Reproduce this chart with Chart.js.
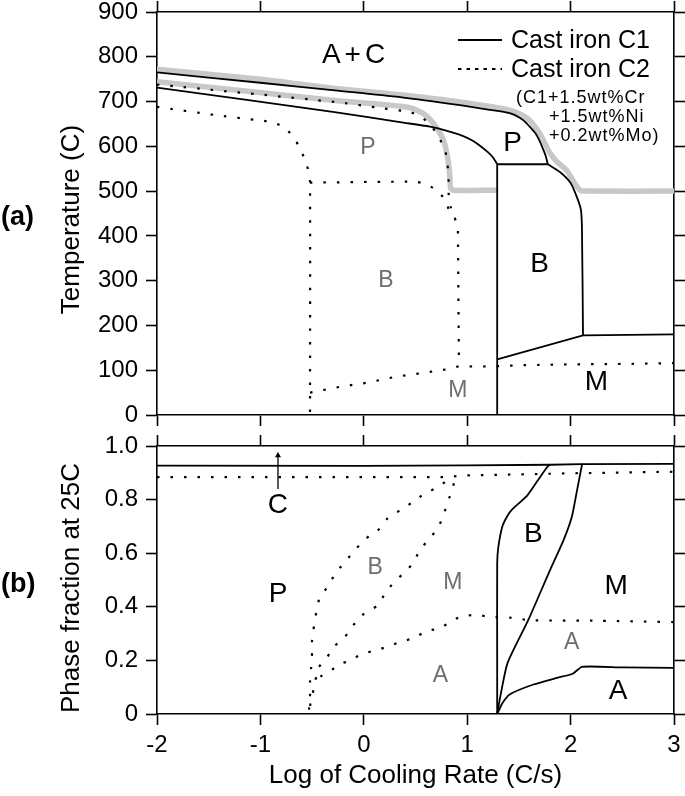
<!DOCTYPE html>
<html lang="en">
<head>
<meta charset="UTF-8">
<title>Phase map vs cooling rate</title>
<script src="https://cdn.jsdelivr.net/npm/chart.js"></script>
<style>
    body { margin: 0; background: #fff; }
    .wrap { position: relative; width: 685px; height: 796px; }
    #tempChart { position: absolute; left: 0; top: 0; }
    #fracChart { position: absolute; left: 0; top: 430px; }
</style>
</head>
<body>
<div class="wrap">
    <canvas id="tempChart" width="685" height="430"></canvas>
    <canvas id="fracChart" width="685" height="366"></canvas>
</div>
<script>
// x axis: log of cooling rate (C/s)
const xMin = -2, xMax = 3;

// ---- (a) temperature (C), cast iron C1 (solid) ----
const c1TopX = [-2, -1, -0.28, 0.35, 0.93, 1.2, 1.41, 1.54, 1.6, 1.66, 1.7, 1.73, 1.76, 1.78];
const c1TopT = [765, 742, 725, 710, 692, 682, 674, 659, 645, 629, 612, 596, 578, 560];
const c1PearX = [-2, -0.3, 0.35, 0.64, 0.83, 0.95, 1.05, 1.12, 1.2, 1.25, 1.29];
const c1PearT = [731, 677, 654, 644, 633, 624, 613, 602, 587, 575, 560];
const c1BoxX = [1.29, 1.78];
const c1BoxT = [560, 560];
const c1BainX = [1.78, 1.9, 2.0, 2.06, 2.1, 2.11, 2.12];
const c1BainT = [560, 542, 518, 487, 458, 413, 178];
const c1MsX = [1.29, 2.12, 3];
const c1MsT = [124, 178, 180];
const c1VertX = [1.29, 1.29];
const c1VertT = [0, 560];

// grey curves
const greyTopX = [-2, -1, -0.3, 0.35, 0.93, 1.41, 1.58, 1.7, 1.8, 1.87, 1.96, 2.02, 2.09, 2.15, 3];
const greyTopT = [772, 750, 730, 715, 699, 681, 663, 629, 585, 565, 547, 525, 502, 500, 500];
const greyLowX = [-2, -0.3, 0.41, 0.57, 0.67, 0.77, 0.81, 0.83, 0.84, 0.87, 1.29];
const greyLowT = [744, 703, 688, 674, 652, 614, 576, 540, 507, 502, 502];

// ---- (a) cast iron C2 (dotted) ----
const c2TopX = [-2, -0.28, 0.18, 0.45, 0.56, 0.66, 0.74, 0.79, 0.81, 0.82, 0.82, 0.84, 0.88];
const c2TopT = [738, 699, 685, 676, 665, 643, 614, 587, 558, 525, 496, 465, 440];
const c2PearX = [-2, -1.44, -1.05, -0.91, -0.78, -0.68, -0.62, -0.56, -0.53, -0.52, -0.52];
const c2PearT = [688, 670, 659, 655, 644, 621, 596, 565, 538, 519, 0];
const c2BainX = [-0.52, 0.45, 0.57, 0.69, 0.79, 0.83, 0.88];
const c2BainT = [519, 521, 518, 504, 480, 453, 440];
const c2VertX = [0.88, 0.91, 0.92];
const c2VertT = [440, 420, 110];
const c2MsX = [-0.52, -0.23, 0.03, 0.3, 0.57, 0.83, 0.92, 1.1, 1.29, 1.5, 2, 2.5, 3];
const c2MsT = [50, 63, 72, 85, 94, 103, 109, 108, 109, 111, 113, 114, 116];

// ---- (b) phase fraction at 25C, C1 (solid) ----
const f1CarbX = [-2, 0, 1, 1.8, 2.1, 3];
const f1CarbY = [0.927, 0.926, 0.928, 0.93, 0.932, 0.933];
const f1BLeftX = [1.29, 1.29, 1.29, 1.3, 1.34, 1.39, 1.44, 1.58, 1.68, 1.77, 1.8];
const f1BLeftY = [0, 0.19, 0.56, 0.62, 0.7, 0.74, 0.765, 0.815, 0.87, 0.92, 0.93];
const f1BRightX = [1.29, 1.32, 1.39, 1.59, 1.8, 1.93, 2.01, 2.06, 2.11];
const f1BRightY = [0, 0.065, 0.19, 0.35, 0.536, 0.647, 0.733, 0.83, 0.93];
const f1AustX = [1.29, 1.34, 1.41, 1.64, 1.87, 2.02, 2.11, 2.5, 3];
const f1AustY = [0, 0.04, 0.073, 0.11, 0.135, 0.15, 0.176, 0.174, 0.172];

// ---- (b) C2 (dotted) ----
const f2CarbX = [-2, 0.8, 0.95, 2, 3];
const f2CarbY = [0.884, 0.884, 0.89, 0.898, 0.904];
const f2PearX = [-0.53, -0.52, -0.52, -0.51, -0.5, -0.5, -0.46, -0.43, -0.36, -0.28, -0.2, -0.11, -0.02, 0.07, 0.15, 0.23, 0.35, 0.47, 0.59, 0.71, 0.8, 0.86];
const f2PearY = [0.016, 0.065, 0.12, 0.17, 0.23, 0.277, 0.38, 0.43, 0.47, 0.52, 0.56, 0.6, 0.64, 0.67, 0.69, 0.73, 0.76, 0.79, 0.823, 0.845, 0.87, 0.884];
const f2BainX = [-0.52, -0.47, -0.44, -0.36, -0.28, -0.18, -0.1, -0.015, 0.135, 0.205, 0.295, 0.4, 0.48, 0.54, 0.62, 0.71, 0.77, 0.81, 0.86, 0.88];
const f2BainY = [0.03, 0.121, 0.172, 0.209, 0.254, 0.289, 0.332, 0.369, 0.406, 0.45, 0.493, 0.53, 0.565, 0.61, 0.648, 0.69, 0.74, 0.79, 0.84, 0.884];
const f2AustX = [-0.42, -0.35, -0.24, -0.11, -0.01, 0.11, 0.22, 0.36, 0.48, 0.61, 0.74, 0.83, 0.95, 1.09, 1.24, 1.48, 1.58, 2.28, 3];
const f2AustY = [0.14, 0.154, 0.183, 0.205, 0.225, 0.237, 0.25, 0.27, 0.283, 0.31, 0.32, 0.343, 0.365, 0.369, 0.362, 0.358, 0.35, 0.348, 0.343];

// arrow pointing to the carbide layer
const arrowX = [-0.83, -0.83];
const arrowY = [0.84, 0.965];

const FONT = "'Liberation Sans', Arial, sans-serif";
const GREY_TXT = '#6e6e6e';

// text on the charts, placed in data coordinates
const notesA = [
    { text: 'A+C', x: -0.08, y: 804, size: 28, color: '#000', gap: 4 },
    { text: 'P', x: 0.04, y: 596, size: 23, color: GREY_TXT },
    { text: 'P', x: 1.44, y: 607, size: 28, color: '#000' },
    { text: 'B', x: 0.215, y: 301, size: 23, color: GREY_TXT },
    { text: 'B', x: 1.7, y: 337, size: 28, color: '#000' },
    { text: 'M', x: 0.91, y: 54, size: 23, color: GREY_TXT },
    { text: 'M', x: 2.25, y: 74, size: 28, color: '#000' }
];
const notesB = [
    { text: 'C', x: -0.83, y: 0.778, size: 28, color: '#000' },
    { text: 'P', x: -0.83, y: 0.448, size: 28, color: '#000' },
    { text: 'B', x: 0.11, y: 0.545, size: 23, color: GREY_TXT },
    { text: 'B', x: 1.64, y: 0.67, size: 28, color: '#000' },
    { text: 'M', x: 0.86, y: 0.49, size: 23, color: GREY_TXT },
    { text: 'M', x: 2.44, y: 0.476, size: 28, color: '#000' },
    { text: 'A', x: 2.01, y: 0.265, size: 23, color: GREY_TXT },
    { text: 'A', x: 0.74, y: 0.143, size: 23, color: GREY_TXT },
    { text: 'A', x: 2.46, y: 0.083, size: 28, color: '#000' }
];

Chart.defaults.font.family = FONT;
Chart.defaults.color = '#000';

const solid = { borderColor: '#000', borderWidth: 1.8 };
const dotted = { borderColor: '#000', borderWidth: 2.2, borderDash: [2.5, 11] };
const grey = { borderColor: '#c8c8c8', borderWidth: 5.5, order: 5 };

function curve(xs, ys, style, tension) {
    return Object.assign({
        data: xs.map((x, i) => ({ x: x, y: ys[i] })),
        showLine: true, pointRadius: 0, fill: false, tension: tension || 0
    }, style);
}

const border = { display: true, color: '#000', width: 1.6 };
const marks = { drawOnChartArea: false, drawTicks: true, tickLength: 11, tickWidth: 1.6, tickColor: '#000' };

function xAxis(position, labels, h) {
    return {
        type: 'linear', position: position, min: xMin, max: xMax,
        border: border, grid: marks,
        ticks: { display: labels, stepSize: 1, padding: 6, font: { size: 24 } },
        afterFit: s => { s.height = h; s.paddingLeft = 0; s.paddingRight = 0; }
    };
}
function yAxis(position, min, max, step, labels, w, fmt) {
    return {
        type: 'linear', position: position, min: min, max: max,
        border: border, grid: marks,
        ticks: { display: labels, stepSize: step, padding: 8, font: { size: 24 }, callback: fmt },
        afterFit: s => { s.width = w; s.paddingTop = 0; s.paddingBottom = 0; }
    };
}

// draws annotations, axis titles, panel tags and the legend
const notesPlugin = {
    id: 'notes',
    afterDraw(chart, args, opts) {
        const ctx = chart.ctx, area = chart.chartArea;
        const sx = chart.scales.x, sy = chart.scales.y;
        ctx.save();
        ctx.textAlign = 'center';
        ctx.textBaseline = 'middle';
        (opts.items || []).forEach(n => {
            ctx.font = n.size + 'px ' + FONT;
            ctx.fillStyle = n.color;
            ctx.letterSpacing = (n.gap || 0) + 'px';
            ctx.fillText(n.text, sx.getPixelForValue(n.x), sy.getPixelForValue(n.y));
        });
        ctx.letterSpacing = '0px';
        ctx.fillStyle = '#000';

        // y title
        ctx.save();
        ctx.translate(72, (area.top + area.bottom) / 2 + opts.titleShift);
        ctx.rotate(-Math.PI / 2);
        ctx.font = '26px ' + FONT;
        ctx.fillText(opts.yTitle, 0, 0);
        ctx.restore();

        // panel tag
        ctx.font = 'bold 27px ' + FONT;
        ctx.textAlign = 'left';
        ctx.fillText(opts.tag, 1, (area.top + area.bottom) / 2 + opts.tagShift);

        if (opts.xTitle) {
            ctx.textAlign = 'center';
            ctx.font = '26px ' + FONT;
            ctx.fillText(opts.xTitle, (area.left + area.right) / 2, 346);
        }

        if (opts.legend) {
            ctx.strokeStyle = '#000';
            ctx.lineWidth = 1.8;
            ctx.beginPath(); ctx.moveTo(458, 40); ctx.lineTo(502, 40); ctx.stroke();
            ctx.setLineDash([3.5, 5]);
            ctx.lineWidth = 2;
            ctx.beginPath(); ctx.moveTo(458, 69); ctx.lineTo(502, 69); ctx.stroke();
            ctx.setLineDash([]);
            ctx.textAlign = 'left';
            ctx.font = '25px ' + FONT;
            ctx.fillText('Cast iron C1', 511, 41);
            ctx.fillText('Cast iron C2', 511, 70);
            ctx.font = '18px ' + FONT;
            ctx.letterSpacing = '1px';
            ctx.fillText('(C1+1.5wt%Cr', 516, 98);
            ctx.fillText('+1.5wt%Ni', 549, 117);
            ctx.fillText('+0.2wt%Mo)', 549, 136);
            ctx.letterSpacing = '0px';
        }
        ctx.restore();
    }
};

new Chart(document.getElementById('tempChart'), {
    type: 'scatter',
    data: {
        datasets: [
            curve(c1TopX, c1TopT, solid, 0.25),
            curve(c1PearX, c1PearT, solid, 0.25),
            curve(c1BoxX, c1BoxT, solid),
            curve(c1BainX, c1BainT, solid, 0.25),
            curve(c1MsX, c1MsT, solid),
            curve(c1VertX, c1VertT, solid),
            curve(c2TopX, c2TopT, dotted, 0.25),
            curve(c2PearX, c2PearT, dotted, 0.25),
            curve(c2BainX, c2BainT, dotted, 0.25),
            curve(c2VertX, c2VertT, dotted),
            curve(c2MsX, c2MsT, dotted),
            curve(greyTopX, greyTopT, grey, 0.25),
            curve(greyLowX, greyLowT, grey, 0.25)
        ]
    },
    options: {
        responsive: false,
        animation: false,
        layout: { padding: 0 },
        scales: {
            x: xAxis('bottom', false, 15),
            x2: xAxis('top', false, 12),
            y: yAxis('left', 0, 900, 100, true, 157),
            y2: yAxis('right', 0, 900, 100, false, 11)
        },
        plugins: {
            legend: { display: false },
            tooltip: { enabled: false },
            notes: { items: notesA, yTitle: 'Temperature (C)', tag: '(a)', titleShift: 6, tagShift: 4, legend: true }
        }
    },
    plugins: [notesPlugin]
});

new Chart(document.getElementById('fracChart'), {
    type: 'scatter',
    data: {
        datasets: [
            curve(f1CarbX, f1CarbY, solid),
            curve(f1BLeftX, f1BLeftY, solid, 0.2),
            curve(f1BRightX, f1BRightY, solid, 0.2),
            curve(f1AustX, f1AustY, solid, 0.2),
            curve(f2CarbX, f2CarbY, dotted),
            curve(f2PearX, f2PearY, dotted, 0.2),
            curve(f2BainX, f2BainY, dotted, 0.2),
            curve(f2AustX, f2AustY, dotted, 0.2),
            Object.assign(curve(arrowX, arrowY, { borderColor: '#000', borderWidth: 1.3 }), {
                pointRadius: [0, 3.5], pointStyle: 'triangle',
                pointBackgroundColor: '#000', pointBorderColor: '#000', pointBorderWidth: 0
            })
        ]
    },
    options: {
        responsive: false,
        animation: false,
        layout: { padding: 0 },
        scales: {
            x: xAxis('bottom', true, 82),
            x2: xAxis('top', false, 16),
            y: yAxis('left', 0, 1, 0.2, true, 157, v => v === 0 ? '0' : v.toFixed(1)),
            y2: yAxis('right', 0, 1, 0.2, false, 11)
        },
        plugins: {
            legend: { display: false },
            tooltip: { enabled: false },
            notes: { items: notesB, yTitle: 'Phase fraction at 25C', tag: '(b)', titleShift: 8, tagShift: 5, xTitle: 'Log of Cooling Rate (C/s)' }
        }
    },
    plugins: [notesPlugin]
});
</script>
</body>
</html>
